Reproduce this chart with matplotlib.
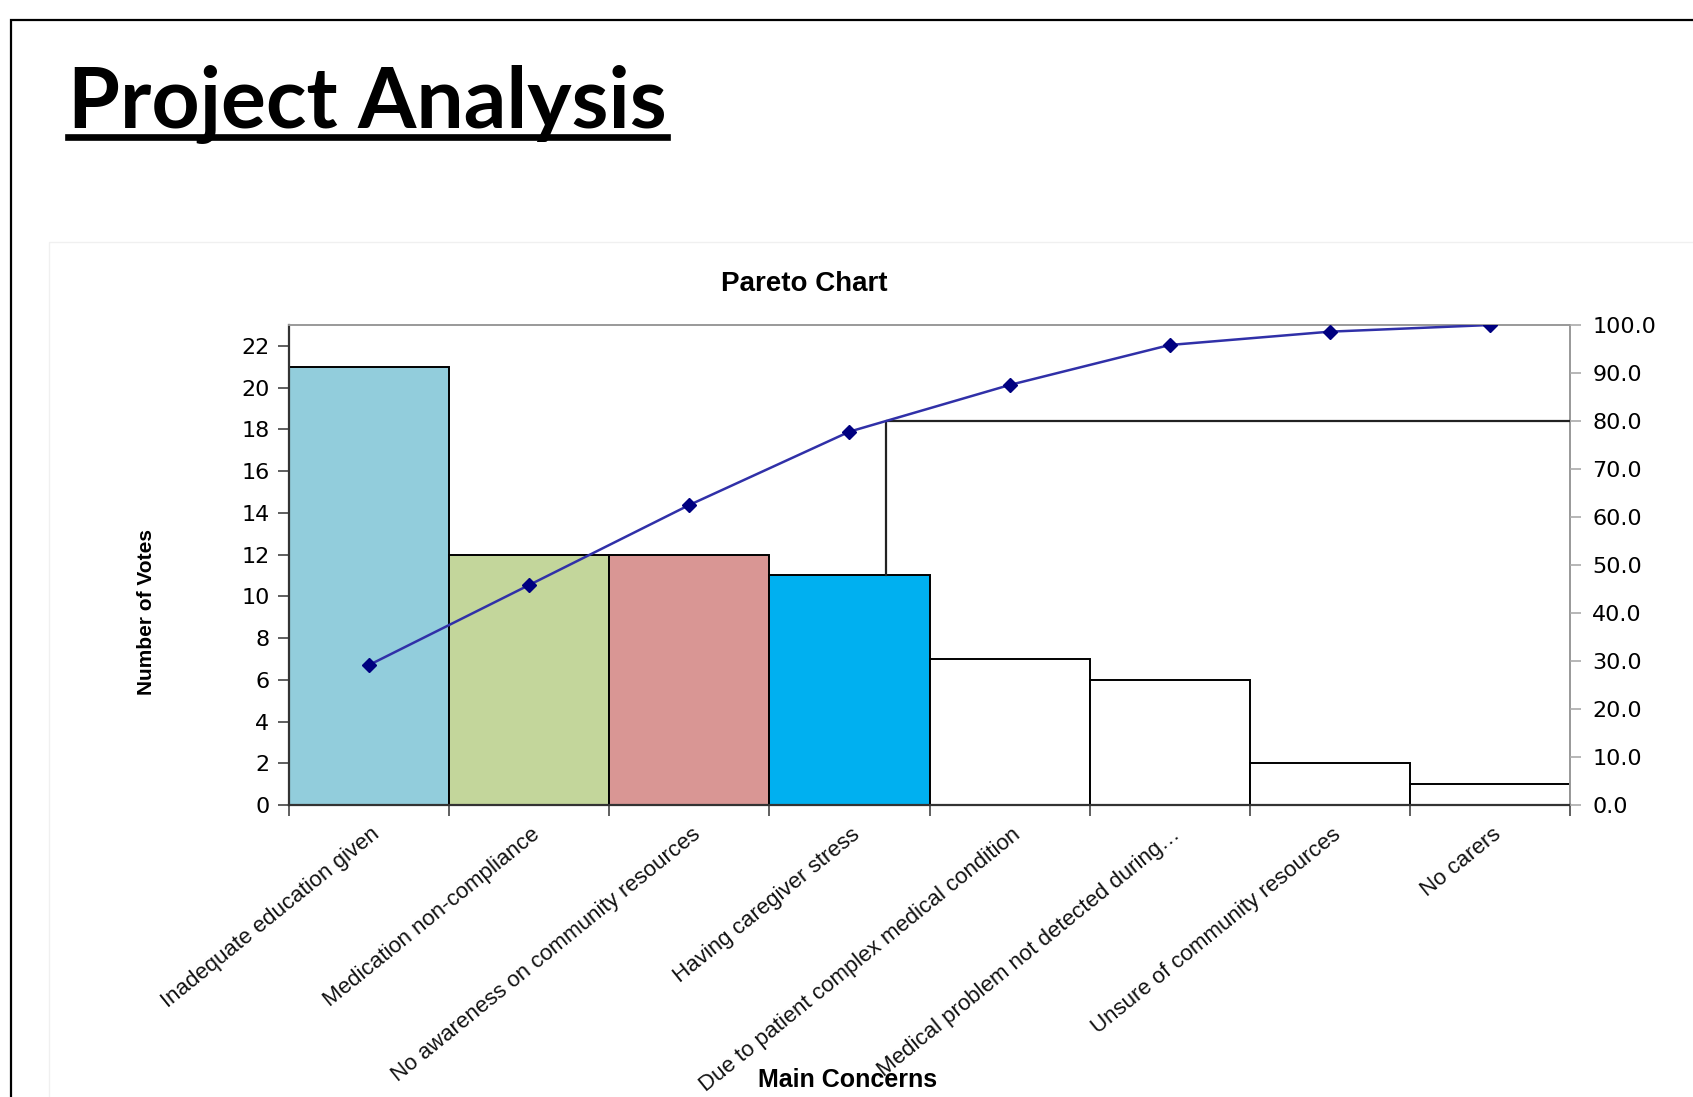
import numpy as np
import matplotlib.pyplot as plt
from matplotlib.patches import Rectangle
from matplotlib.lines import Line2D

# data
concerns = ['Inadequate education given', 'Medication non-compliance',
            'No awareness on community resources', 'Having caregiver stress',
            'Due to patient complex medical condition',
            'Medical problem not detected during\u2026',
            'Unsure of community resources', 'No carers']
votes = [21, 12, 12, 11, 7, 6, 2, 1]
bar_colors = ['#92CDDC', '#C3D69B', '#D99694', '#00B0F0',
              'white', 'white', 'white', 'white']
cutoff = 80.0

cum_pct = np.cumsum(votes) / np.sum(votes) * 100

fig = plt.figure(figsize=(16.93, 10.97), dpi=100)
fig.patch.set_facecolor('white')

# outer slide frame
fig.add_artist(Rectangle((11 / 1693, -0.1), 1.2, 1.1 - 20 / 1097,
                         transform=fig.transFigure, fill=False,
                         edgecolor='black', linewidth=1.6))
# faint chart area outline
fig.add_artist(Rectangle((49 / 1693, -0.1), 1.2, 1.1 - 242 / 1097,
                         transform=fig.transFigure, fill=False,
                         edgecolor='#f0f0f0', linewidth=1.0))

# slide heading with underline
title = fig.text(68 / 1693, 1 - 127 / 1097, 'Project Analysis',
                 fontsize=60.5, fontweight='bold', family='Lato',
                 ha='left', va='baseline')
fig.canvas.draw()
bb = title.get_window_extent()
fig.add_artist(Line2D([bb.x0 / 1693, bb.x1 / 1693],
                      [1 - 137 / 1097, 1 - 137 / 1097],
                      transform=fig.transFigure, color='black', linewidth=4.8))

ax = fig.add_axes([289 / 1693, 1 - 805 / 1097, 1281 / 1693, 480 / 1097])
x = np.arange(len(votes))
ax.bar(x, votes, width=1.0, color=bar_colors, edgecolor='black',
       linewidth=1.4, zorder=2)
ax.set_xlim(-0.5, len(votes) - 0.5)
ax.set_ylim(0, 23)
ax.set_yticks(range(0, 23, 2))
ax.set_xticks(np.arange(-0.5, len(votes), 1.0))
ax.set_xticklabels([])
ax.tick_params(axis='y', labelsize=16, length=8, width=1.2, color='#444444',
               pad=6)
ax.tick_params(axis='x', length=8, width=1.2, color='#444444')
for i, lab in enumerate(concerns):
    ax.text(i + 0.01, -0.9, lab, rotation=39, rotation_mode='anchor',
            ha='right', va='top', fontsize=16, family='Liberation Sans',
            color='#111111')
for s in ['left', 'bottom']:
    ax.spines[s].set_color('#333333')
    ax.spines[s].set_linewidth(1.6)
for s in ['top', 'right']:
    ax.spines[s].set_color('#999999')
    ax.spines[s].set_linewidth(1.4)

ax2 = ax.twinx()
ax2.set_ylim(0, 100)
ax2.set_yticks(range(0, 101, 10))
ax2.set_yticklabels(['%.1f' % v for v in range(0, 101, 10)])
ax2.tick_params(axis='y', labelsize=16, length=8, width=1.2, color='#aaaaaa',
                pad=8)
for s in ax2.spines.values():
    s.set_visible(False)

# cumulative percentage line
ax2.plot(x, cum_pct, color='#3030A8', linewidth=1.8, marker='D',
         markersize=7, markerfacecolor='#000080', markeredgecolor='#000080',
         zorder=5)

# 80 % cut-off line
x_cut = np.interp(cutoff, cum_pct, x)
i_cut = int(np.floor(x_cut + 0.5))
base = votes[i_cut] / 23 * 100
ax2.plot([x_cut, x_cut, len(votes) - 0.5], [base, cutoff, cutoff],
         color='#222222', linewidth=1.6, zorder=4)

fig.text(804 / 1693, 1 - 284 / 1097, 'Pareto Chart', fontsize=20,
         fontweight='bold', family='Liberation Sans', ha='center', va='center')
fig.text(146 / 1693, 1 - 612 / 1097, 'Number of Votes', fontsize=15,
         fontweight='bold', family='Liberation Sans', rotation=90,
         ha='center', va='center')
fig.text(848 / 1693, 1 - 1080 / 1097, 'Main Concerns', fontsize=18,
         fontweight='bold', family='Liberation Sans', ha='center', va='center')

fig.savefig('out.png', dpi=100)
